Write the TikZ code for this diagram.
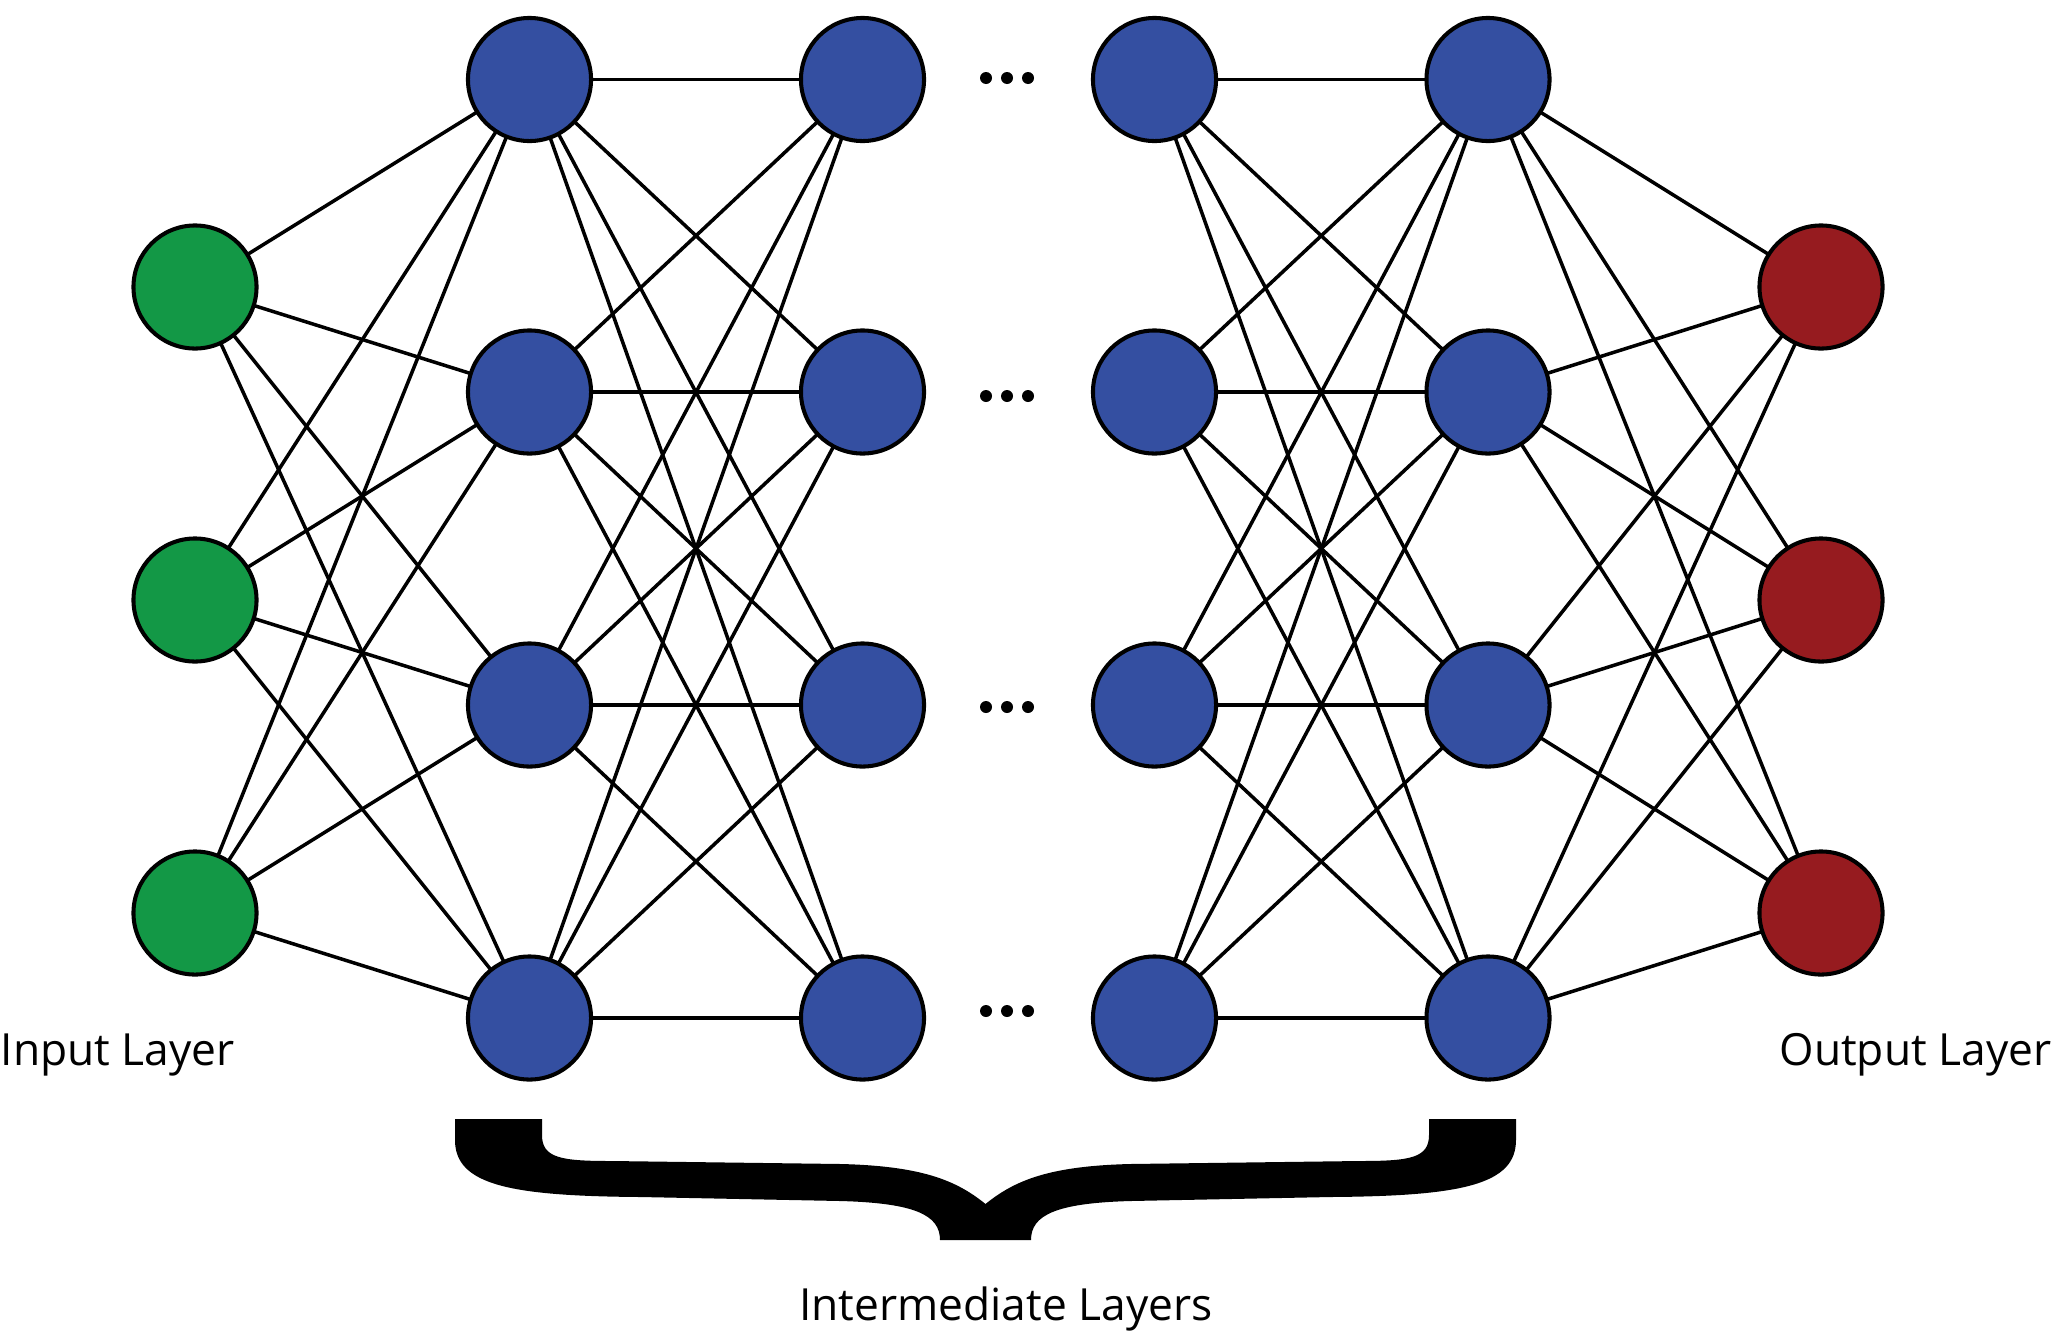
\documentclass[tikz,border=0pt]{standalone}
\usepackage{fontspec}
\setmainfont{Open Sans}
\usetikzlibrary{backgrounds}
\definecolor{ingreen}{RGB}{19,152,70}
\definecolor{hidblue}{RGB}{52,79,161}
\definecolor{outred}{RGB}{150,27,31}
\begin{document}
\begin{tikzpicture}[x=0.01cm,y=-0.01cm,
    neuron/.style={circle,draw=black,line width=1.15pt,minimum size=1.23cm,inner sep=0pt},
    link/.style={line width=1pt},
    lbl/.style={font=\fontsize{12.6}{14}\selectfont,inner sep=0pt,anchor=base}]
\useasboundingbox (0,0) rectangle (2054,1336);
% neurons
\foreach \i/\y in {1/287,2/600,3/913}{
    \node[neuron,fill=ingreen] (in\i) at (195,\y) {};
    \node[neuron,fill=outred] (out\i) at (1821,\y) {};
}
\foreach \j/\y in {1/79.5,2/392,3/705,4/1018}{
    \node[neuron,fill=hidblue] (ha\j) at (529.5,\y) {};
    \node[neuron,fill=hidblue] (hb\j) at (862.5,\y) {};
    \node[neuron,fill=hidblue] (hc\j) at (1154.5,\y) {};
    \node[neuron,fill=hidblue] (hd\j) at (1488,\y) {};
}
% dots between the layers
\foreach \j/\y in {1/78,2/396,3/707,4/1011}{
    \node[inner sep=0pt] (dots\j) at (1007,\y) {};
    \fill (dots\j) circle(6) +(-21,0) circle(6) +(21,0) circle(6);
}
% connections
\begin{scope}[on background layer]
\foreach \i in {1,2,3}
    \foreach \j in {1,2,3,4}{
        \draw[link] (in\i.center)--(ha\j.center);
        \draw[link] (hd\j.center)--(out\i.center);
    }
\foreach \j in {1,2,3,4}
    \foreach \k in {1,2,3,4}{
        \draw[link] (ha\j.center)--(hb\k.center);
        \draw[link] (hc\j.center)--(hd\k.center);
    }
\end{scope}
% brace
\fill (455,1119) -- (455,1140) .. controls (455,1185) and (510,1196) .. (640,1197)
    -- (840,1201) .. controls (915,1203) and (940,1215) .. (940,1240) -- (1031,1240)
    .. controls (1031,1215) and (1056,1203) .. (1131,1201) -- (1331,1197)
    .. controls (1461,1196) and (1516,1185) .. (1516,1140) -- (1516,1119) -- (1429,1119)
    -- (1429,1135) .. controls (1429,1158) and (1410,1161) .. (1360,1161) -- (1130,1164)
    .. controls (1050,1166) and (1015,1180) .. (985.5,1204)
    .. controls (956,1180) and (921,1166) .. (841,1164) -- (611,1161)
    .. controls (561,1161) and (542,1158) .. (542,1135) -- (542,1119) -- cycle;
% labels
\node[lbl,anchor=base west] (inlbl) at (0,1065) {Input Layer};
\node[lbl,anchor=base east] (outlbl) at (2052,1065) {Output Layer};
\node[lbl] (midlbl) at (1006,1320) {Intermediate Layers};
\end{tikzpicture}
\end{document}
